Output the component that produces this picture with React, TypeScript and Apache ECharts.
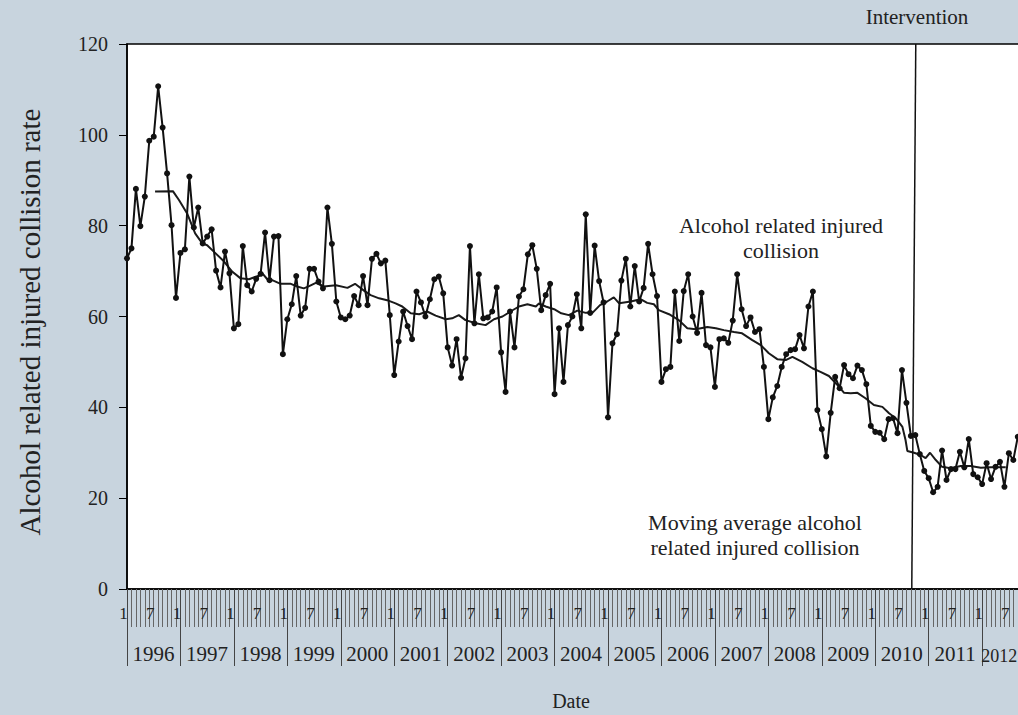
import React, { useEffect, useRef } from "react";
import * as echarts from "echarts";

// Monthly alcohol related injured collision rate, Jan 1996 onward (index = months since Jan 1996)
const rates = [
  72.8, 75.0, 88.1, 79.9, 86.4, 98.7, 99.6, 110.7, 101.6, 91.5, 80.1, 64.1,
  74.0, 74.8, 90.8, 79.6, 84.0, 76.1, 77.6, 79.2, 70.1, 66.4, 74.3, 69.5,
  57.4, 58.3, 75.5, 66.9, 65.5, 68.3, 69.4, 78.5, 68.0, 77.6, 77.7, 51.7,
  59.4, 62.7, 68.9, 60.2, 61.9, 70.5, 70.5, 67.7, 66.2, 84.0, 76.0, 63.3,
  59.8, 59.4, 60.2, 64.5, 62.5, 68.9, 62.5, 72.7, 73.8, 71.7, 72.3, 60.3,
  47.1, 54.5, 61.1, 57.9, 55.0, 65.5, 63.1, 60.0, 63.8, 68.2, 68.8, 65.1,
  53.2, 49.2, 55.0, 46.5, 50.8, 75.5, 58.5, 69.3, 59.6, 59.8, 61.1, 66.4,
  52.1, 43.4, 61.1, 53.2, 64.4, 66.0, 73.7, 75.7, 70.5, 61.4, 64.7, 67.2,
  42.9, 57.4, 45.6, 58.1, 60.0, 64.9, 57.4, 82.5, 60.8, 75.6, 67.8, 63.1,
  37.8, 54.1, 56.1, 67.9, 72.7, 62.2, 71.1, 63.3, 66.3, 76.0, 69.3, 64.5,
  45.6, 48.4, 48.9, 65.5, 54.6, 65.6, 69.3, 60.0, 56.4, 65.2, 53.7, 53.2,
  44.5, 55.0, 55.2, 54.2, 59.1, 69.3, 61.6, 57.9, 59.8, 56.6, 57.2, 48.9,
  37.4, 42.2, 44.7, 48.9, 51.7, 52.6, 52.8, 55.9, 53.0, 62.2, 65.5, 39.4,
  35.2, 29.2, 38.8, 46.7, 44.2, 49.3, 47.3, 46.4, 49.2, 48.2, 45.1, 35.9,
  34.6, 34.4, 33.0, 37.4, 37.6, 34.3, 48.2, 41.0, 33.7, 33.9, 29.7, 26.0,
  24.4, 21.3, 22.5, 30.5, 24.0, 26.4, 26.4, 30.2, 26.8, 33.0, 25.3, 24.6,
  23.1, 27.7, 24.2, 26.9, 28.0, 22.5, 29.9, 28.4, 33.5,
];

// Moving average: month position and value
const maMonths = [
  6.3, 10.3, 11.7, 13.5, 15.3, 16.9, 18.0, 19.9, 21.8, 23.6, 25.5, 27.4, 29.3, 30.4, 31.5, 32.6, 34.5, 36.8, 38.2, 39.7,
  40.9, 42.4, 44.2, 46.9, 49.5, 51.2, 53.2, 54.7, 56.6, 58.4, 60.3, 61.8, 63.7, 65.6, 67.4, 69.3, 71.6, 73.0, 74.5, 76.0, 78.3,
  80.5, 82.4, 84.3, 86.1, 88.0, 89.9, 91.8, 92.5, 94.0, 95.9, 97.5, 99.2, 101.1, 103.0, 104.5, 106.2, 107.8, 109.3, 110.5, 113.1, 115.3, 116.8, 118.3,
  119.4, 121.7, 123.9, 125.8, 127.7, 130.3, 132.2, 134.0, 136.3, 138.1, 140.4, 142.3, 144.1, 146.0, 147.9, 149.4, 151.6, 153.9, 155.7, 157.6,
  159.9, 161.0, 162.5, 164.0, 165.8, 167.7, 169.6, 171.1, 172.6, 174.1, 174.8, 175.2, 176.7, 178.2, 179.3, 180.3, 181.6, 183.0, 184.9, 187.2, 189.4, 191.7, 193.9, 195.8, 197.3,
];
const maValues = [
  87.5, 87.6, 85.6, 82.7, 78.3, 76.1, 75.7, 73.9, 72.1, 69.9, 68.4, 68.2, 68.9, 69.5, 68.2, 68.0, 67.2, 67.2, 66.6, 66.2,
  66.7, 67.4, 66.6, 66.9, 66.3, 67.2, 65.7, 64.7, 64.0, 63.6, 62.9, 62.2, 60.7, 60.5, 61.1, 60.2, 59.4, 59.6, 60.3, 59.2, 58.5,
  58.1, 59.4, 60.0, 61.1, 62.2, 62.7, 62.2, 62.9, 62.2, 61.6, 60.7, 60.3, 61.3, 60.8, 60.8, 62.5, 63.3, 64.2, 62.9, 63.3, 63.8, 63.0, 62.7,
  61.4, 60.5, 59.2, 57.4, 57.2, 57.7, 57.4, 57.0, 56.6, 56.3, 54.8, 53.7, 51.9, 50.6, 50.4, 51.1, 50.0, 48.6, 47.8, 46.9,
  44.5, 43.2, 43.1, 43.2, 42.0, 40.5, 40.1, 38.7, 37.6, 35.7, 32.8, 30.4, 30.0, 29.5, 28.8, 30.0, 28.4, 26.9, 26.6, 27.1, 27.1, 26.7, 26.8, 26.8, 26.8,
];

const yearLabels = [
  "1996", "1997", "1998", "1999", "2000", "2001", "2002", "2003", "2004",
  "2005", "2006", "2007", "2008", "2009", "2010", "2011", "2012",
];
const monthLabels: Record<number, string> = { 0: "1", 6: "7" };

// Intervention line (month positions at top and bottom of plot)
const interventionTop = 177.1;
const interventionBottom = 176.2;

const FONT = '"Liberation Serif", "DejaVu Serif", serif';
const TEXT = "#222";

export default function App() {
  const ref = useRef<HTMLDivElement>(null);

  useEffect(() => {
    if (!ref.current) return;
    const chart = echarts.init(ref.current, null, { renderer: "svg" });
    const lastYearIdx = yearLabels.length - 1;
    const option: any = {
      animation: false,
      backgroundColor: "#c8d4de",
      textStyle: { fontFamily: FONT, color: TEXT },
      grid: {
        left: 127,
        top: 44,
        right: -2,
        bottom: 126,
        show: true,
        backgroundColor: "#ffffff",
        borderColor: "#000",
        borderWidth: 1.5,
        containLabel: false,
        outerBoundsMode: "none",
      },
      xAxis: [
        {
          type: "value",
          min: 0,
          max: 200.5,
          interval: 1,
          position: "bottom",
          axisLine: { show: true, lineStyle: { color: "#000", width: 1.5 } },
          axisTick: { show: true, length: 38, lineStyle: { color: "#666", width: 1 } },
          axisLabel: {
            formatter: (v: number) => monthLabels[((v % 12) + 12) % 12] ?? "",
            margin: 16,
            fontSize: 17,
            color: TEXT,
            fontFamily: FONT,
            padding: [0, 7, 0, 0],
            showMaxLabel: false,
          },
          splitLine: { show: false },
        },
        {
          type: "value",
          min: 0,
          max: 200.5,
          interval: 12,
          position: "bottom",
          axisLine: { show: false },
          axisTick: { show: true, length: 77, lineStyle: { color: "#444", width: 1 } },
          axisLabel: {
            formatter: (v: number) => {
              if (v % 12 !== 0) return "";
              const i = v / 12;
              const s = yearLabels[i] ?? "";
              if (!s) return "";
              return i === lastYearIdx ? "{last|" + s + "}" : s;
            },
            margin: 54,
            fontSize: 21,
            color: TEXT,
            fontFamily: FONT,
            padding: [0, 0, 0, 53],
            showMaxLabel: false,
            rich: {
              last: {
                fontSize: 18,
                fontFamily: FONT,
                color: TEXT,
                padding: [4, 19, 0, 0],
              },
            },
          },
          splitLine: { show: false },
        },
      ],
      yAxis: {
        type: "value",
        min: 0,
        max: 120,
        interval: 20,
        axisLine: { show: true, lineStyle: { color: "#000", width: 1.5 } },
        axisTick: { show: true, length: 8, lineStyle: { color: "#000" } },
        axisLabel: { fontSize: 20, margin: 19, color: TEXT, fontFamily: FONT },
        splitLine: { show: false },
      },
      series: [
        {
          type: "line",
          xAxisIndex: 0,
          data: rates.map((v, i) => [i, v]),
          symbol: "circle",
          symbolSize: 6,
          itemStyle: { color: "#111" },
          lineStyle: { color: "#111", width: 2 },
          z: 3,
          markLine: {
            silent: true,
            symbol: "none",
            label: { show: false },
            lineStyle: { color: "#111", width: 1.5, type: "solid" },
            data: [[{ coord: [interventionTop, 120] }, { coord: [interventionBottom, 0] }]],
          },
        },
        {
          type: "line",
          xAxisIndex: 0,
          data: maMonths.map((m, i) => [m, maValues[i]]),
          symbol: "none",
          lineStyle: { color: "#1a1a1a", width: 2 },
          z: 2,
        },
      ],
      graphic: [
        {
          type: "text",
          x: 30,
          y: 322,
          rotation: Math.PI / 2,
          style: {
            text: "Alcohol related injured collision rate",
            align: "center",
            verticalAlign: "middle",
            fontSize: 29,
            fontFamily: FONT,
            fill: TEXT,
          },
        },
        {
          type: "text",
          x: 917,
          y: 17,
          style: {
            text: "Intervention",
            align: "center",
            verticalAlign: "middle",
            fontSize: 21,
            fontFamily: FONT,
            fill: TEXT,
          },
        },
        {
          type: "text",
          x: 781,
          y: 237.5,
          z: 10,
          style: {
            text: "Alcohol related injured\ncollision",
            align: "center",
            verticalAlign: "middle",
            lineHeight: 25,
            fontSize: 22,
            fontFamily: FONT,
            fill: TEXT,
          },
        },
        {
          type: "text",
          x: 755,
          y: 534.5,
          z: 10,
          style: {
            text: "Moving average alcohol\nrelated injured collision",
            align: "center",
            verticalAlign: "middle",
            lineHeight: 25,
            fontSize: 22,
            fontFamily: FONT,
            fill: TEXT,
          },
        },
        {
          type: "text",
          x: 571,
          y: 701,
          style: {
            text: "Date",
            align: "center",
            verticalAlign: "middle",
            fontSize: 20,
            fontFamily: FONT,
            fill: TEXT,
          },
        },
      ],
    };
    chart.setOption(option);
    return () => chart.dispose();
  }, []);

  return (
    <div
      ref={ref}
      style={{ position: "absolute", left: 0, top: 0, width: 1018, height: 715 }}
    />
  );
}
